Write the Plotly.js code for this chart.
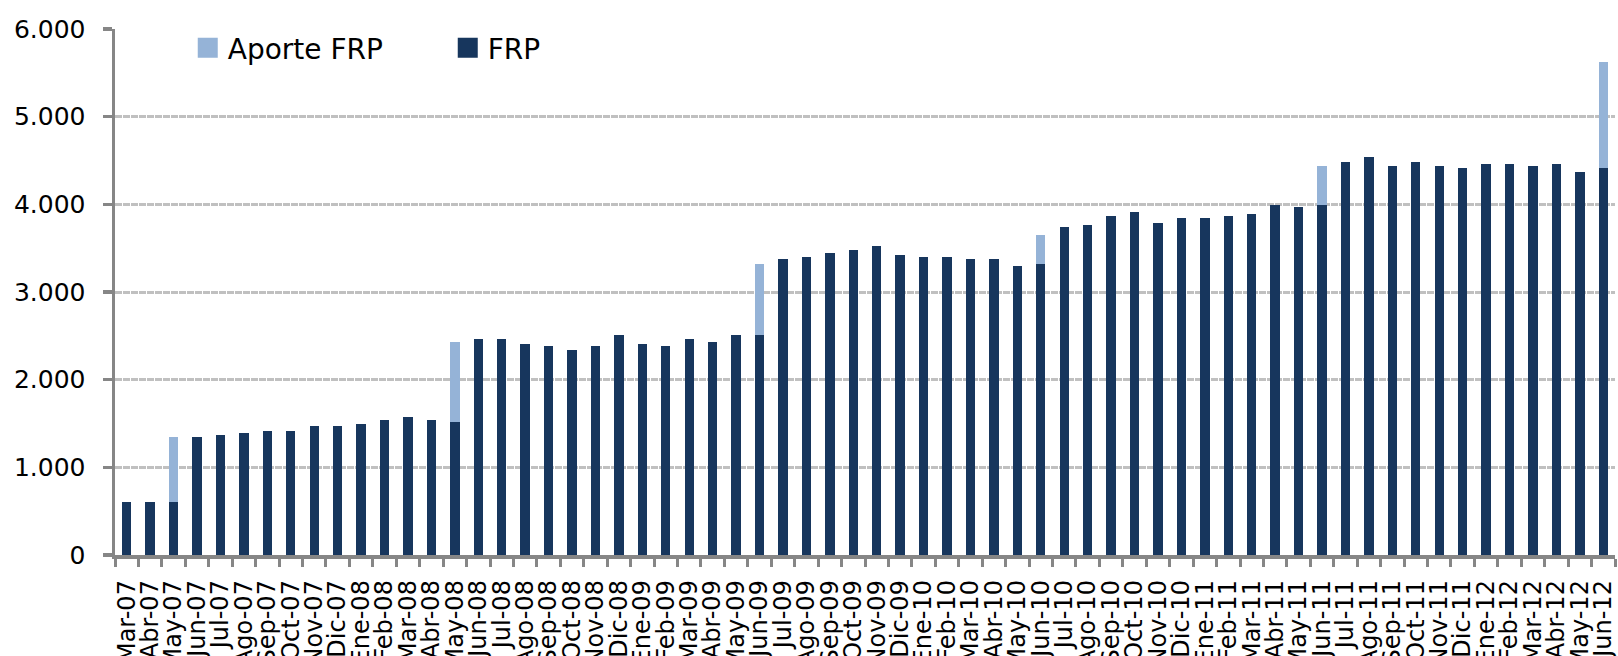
<!DOCTYPE html>
<html>
<head>
<meta charset="utf-8">
<script src="https://cdn.plot.ly/plotly-3.0.1.min.js"></script>
<style>
  html, body { margin: 0; padding: 0; background: #ffffff; }
  #chart { width: 1618px; height: 656px; }
</style>
</head>
<body>
<div id="chart"></div>
<script>
const categories = [
  "Mar-07","Abr-07","May-07","Jun-07","Jul-07","Ago-07","Sep-07","Oct-07","Nov-07","Dic-07",
  "Ene-08","Feb-08","Mar-08","Abr-08","May-08","Jun-08","Jul-08","Ago-08","Sep-08","Oct-08","Nov-08","Dic-08",
  "Ene-09","Feb-09","Mar-09","Abr-09","May-09","Jun-09","Jul-09","Ago-09","Sep-09","Oct-09","Nov-09","Dic-09",
  "Ene-10","Feb-10","Mar-10","Abr-10","May-10","Jun-10","Jul-10","Ago-10","Sep-10","Oct-10","Nov-10","Dic-10",
  "Ene-11","Feb-11","Mar-11","Abr-11","May-11","Jun-11","Jul-11","Ago-11","Sep-11","Oct-11","Nov-11","Dic-11",
  "Ene-12","Feb-12","Mar-12","Abr-12","May-12","Jun-12"
];

const frp = [
  600, 600, 600, 1350, 1370, 1395, 1420, 1420, 1470, 1470,
  1495, 1545, 1570, 1545, 1520, 2460, 2460, 2410, 2385, 2335, 2385, 2510,
  2410, 2385, 2460, 2435, 2510, 2510, 3375, 3400, 3450, 3475, 3525, 3425,
  3400, 3400, 3375, 3375, 3300, 3325, 3745, 3770, 3865, 3915, 3790, 3845,
  3845, 3865, 3890, 3990, 3970, 3990, 4485, 4535, 4435, 4485, 4435, 4410,
  4460, 4460, 4435, 4460, 4365, 4410
];

const aporte = [
  0, 0, 750, 0, 0, 0, 0, 0, 0, 0,
  0, 0, 0, 0, 910, 0, 0, 0, 0, 0, 0, 0,
  0, 0, 0, 0, 0, 815, 0, 0, 0, 0, 0, 0,
  0, 0, 0, 0, 0, 325, 0, 0, 0, 0, 0, 0,
  0, 0, 0, 0, 0, 445, 0, 0, 0, 0, 0, 0,
  0, 0, 0, 0, 0, 1210
];

const yTicks = [0, 1000, 2000, 3000, 4000, 5000, 6000];

const FONT = "DejaVu Sans, Verdana, sans-serif";
const DARK = "#17365D";
const LIGHT = "#95B3D7";
const AXIS = "#868686";

const traces = [
  {
    type: "bar",
    name: "FRP",
    x: categories,
    y: frp,
    marker: { color: DARK, line: { width: 0 } },
    hoverinfo: "x+y+name"
  },
  {
    type: "bar",
    name: "Aporte FRP",
    x: categories,
    y: aporte,
    marker: { color: LIGHT, line: { width: 0 } },
    hoverinfo: "x+y+name"
  }
];

const layout = {
  width: 1618,
  height: 656,
  margin: { l: 115, r: 3, t: 29, b: 101, pad: 0 },
  paper_bgcolor: "#ffffff",
  plot_bgcolor: "#ffffff",
  separators: ",.",
  font: { family: FONT, color: "#000000", size: 24 },
  barmode: "stack",
  bargap: 0.6,
  showlegend: true,
  legend: {
    orientation: "h",
    traceorder: "reversed",
    x: 0.0485,
    xanchor: "left",
    y: 0.964,
    yanchor: "middle",
    bgcolor: "rgba(0,0,0,0)",
    borderwidth: 0,
    entrywidth: 215,
    entrywidthmode: "pixels",
    font: { family: FONT, size: 28, color: "#000000" }
  },
  xaxis: {
    type: "category",
    tickmode: "linear",
    tick0: 0,
    dtick: 1,
    tickson: "boundaries",
    ticks: "outside",
    ticklen: 8,
    tickwidth: 3,
    tickcolor: AXIS,
    tickangle: -90,
    ticklabelstandoff: 12,
    tickfont: { family: FONT, size: 24, color: "#000000" },
    showline: true,
    linecolor: AXIS,
    linewidth: 3.5,
    showgrid: false,
    zeroline: false,
    automargin: false,
    range: [-0.5, categories.length - 0.5],
    fixedrange: true
  },
  yaxis: {
    range: [0, 6000],
    tickmode: "array",
    tickvals: yTicks,
    tickformat: ",d",
    ticks: "outside",
    ticklen: 9,
    tickwidth: 3.5,
    tickcolor: AXIS,
    ticklabelstandoff: 12,
    tickfont: { family: FONT, size: 25, color: "#000000" },
    showline: true,
    linecolor: AXIS,
    linewidth: 3.5,
    showgrid: true,
    gridcolor: "#C0C0C0",
    gridwidth: 3,
    griddash: "7px,1px",
    zeroline: false,
    automargin: false,
    fixedrange: true
  }
};

Plotly.newPlot("chart", traces, layout, { displayModeBar: false, staticPlot: true }).then(function (gd) {
  // enlarge the legend swatches to match the reference's bigger squares
  gd.querySelectorAll(".legendpoints path").forEach(function (p) {
    p.setAttribute("d", "M10,10H-10V-10H10Z");
  });
});
</script>
</body>
</html>
